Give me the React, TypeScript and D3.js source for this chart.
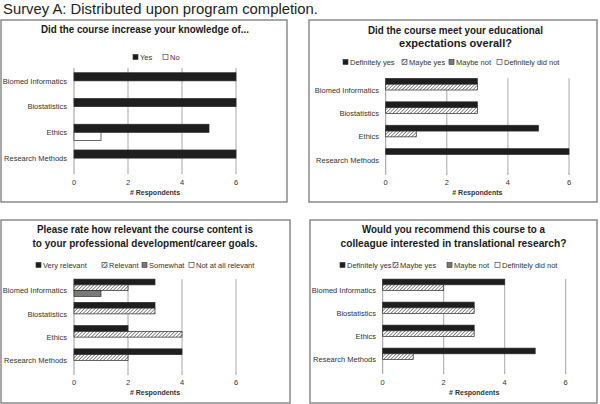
import React from "react";
import * as d3 from "d3";

const categories = ["Biomed Informatics", "Biostatistics", "Ethics", "Research Methods"];
const tickValues = [0, 2, 4, 6];
const axisTitle = "# Respondents";
const mainTitle = "Survey A: Distributed upon program completion.";

const knowledgeTitle = ["Did the course increase your knowledge of..."];
const knowledgeSeries = ["Yes", "No"];
const knowledgeYes = [6, 6, 5, 6];
const knowledgeNo = [0, 0, 1, 0];

const expectTitle = ["Did the course meet your educational", "expectations overall?"];
const expectSeries = ["Definitely yes", "Maybe yes", "Maybe not", "Definitely did not"];
const expectDefYes = [3, 3, 5, 6];
const expectMaybeYes = [3, 3, 1, 0];
const expectMaybeNot = [0, 0, 0, 0];
const expectDefNot = [0, 0, 0, 0];

const relevTitle = ["Please rate how relevant the course content is", "to your professional development/career goals."];
const relevSeries = ["Very relevant", "Relevant", "Somewhat", "Not at all relevant"];
const relevVery = [3, 3, 2, 4];
const relevRelevant = [2, 3, 4, 2];
const relevSomewhat = [1, 0, 0, 0];
const relevNot = [0, 0, 0, 0];

const recTitle = ["Would you recommend this course to a", "colleague interested in translational  research?"];
const recSeries = ["Definitely yes", "Maybe yes", "Maybe not", "Definitely did not"];
const recDefYes = [4, 3, 3, 5];
const recMaybeYes = [2, 3, 3, 1];
const recMaybeNot = [0, 0, 0, 0];
const recDefNot = [0, 0, 0, 0];

const FONT = "'Liberation Sans', Arial, sans-serif";

type Layout = {
  box: [number, number, number, number];
  plot: [number, number, number, number];
  titleX: number;
  titleY: number[];
  titleW: number[];
  legendY: number;
  legendX: number[];
  labelX: number;
  tickY: number;
  axisTitleY: number;
  fills: string[];
  barPad: number;
};

type PanelProps = {
  layout: Layout;
  title: string[];
  series: string[];
  values: number[][];
};

function Panel({ layout, title, series, values }: PanelProps) {
  const [bx, by, bw, bh] = layout.box;
  const [x0, x1, y0, y1] = layout.plot;
  const x = d3.scaleLinear().domain([0, 6]).range([x0, x1]);
  const y = d3.scaleBand<string>().domain(categories).range([y0, y1]).paddingInner(0).paddingOuter(0);
  const inner = d3
    .scaleBand<string>()
    .domain(series)
    .range([0, y.bandwidth()])
    .paddingOuter(layout.barPad)
    .paddingInner(0);
  const axisMid = (x0 + x1) / 2;
  return (
    <g>
      <rect x={bx} y={by} width={bw} height={bh} fill="#fff" stroke="#8a8a8a" strokeWidth={1.5} />
      {title.map((t, i) => (
        <text
          key={i}
          x={layout.titleX}
          y={layout.titleY[i]}
          dy="0.35em"
          textAnchor="middle"
          fontFamily={FONT}
          fontWeight="bold"
          fontSize={11.5}
          fill="#1a1a1a"
          textLength={layout.titleW[i]}
          lengthAdjust="spacingAndGlyphs"
        >
          {t}
        </text>
      ))}
      {series.map((s, i) => (
        <g key={s}>
          <rect
            x={layout.legendX[i]}
            y={layout.legendY - 2.5}
            width={5}
            height={5}
            fill={layout.fills[i]}
            stroke="#333"
            strokeWidth={0.6}
          />
          <text
            x={layout.legendX[i] + 7}
            y={layout.legendY}
            dy="0.35em"
            fontFamily={FONT}
            fontSize={7.5}
            fill="#333"
          >
            {s}
          </text>
        </g>
      ))}
      {tickValues.map((t) => (
        <g key={t}>
          <line x1={x(t)} x2={x(t)} y1={y0} y2={y1} stroke={t === 0 ? "#9a9a9a" : "#a8a8a8"} strokeWidth={1} />
          <line x1={x(t)} x2={x(t)} y1={y1} y2={y1 + 3} stroke="#9a9a9a" strokeWidth={1} />
          <text x={x(t)} y={layout.tickY} dy="0.35em" textAnchor="middle" fontFamily={FONT} fontSize={7.5} fill="#333">
            {t}
          </text>
        </g>
      ))}
      <text
        x={axisMid}
        y={layout.axisTitleY}
        dy="0.35em"
        textAnchor="middle"
        fontFamily={FONT}
        fontWeight="bold"
        fontSize={7}
        fill="#333"
      >
        {axisTitle}
      </text>
      {categories.map((c) => (
        <text
          key={c}
          x={layout.labelX}
          y={(y(c) as number) + y.bandwidth() / 2}
          dy="0.35em"
          textAnchor="end"
          fontFamily={FONT}
          fontSize={7.5}
          fill="#333"
        >
          {c}
        </text>
      ))}
      {categories.map((c, ci) =>
        series.map((s, si) => {
          const v = values[si][ci];
          if (!v) return null;
          return (
            <rect
              key={c + s}
              x={x(0)}
              y={(y(c) as number) + (inner(s) as number)}
              width={x(v) - x(0)}
              height={inner.bandwidth()}
              fill={layout.fills[si]}
              stroke="#2a2a2a"
              strokeWidth={0.7}
            />
          );
        })
      )}
    </g>
  );
}

const FILLS4 = ["#1e1e1e", "url(#hatch)", "#7a7a7a", "#ffffff"];
const FILLS2 = ["#1e1e1e", "#ffffff"];

const layouts: Layout[] = [
  {
    box: [1, 20, 286, 182],
    plot: [74, 236, 68, 171],
    titleX: 145,
    titleY: [29],
    titleW: [208],
    legendY: 57,
    legendX: [133, 163],
    labelX: 67,
    tickY: 182,
    axisTitleY: 193,
    fills: FILLS2,
    barPad: 0.58,
  },
  {
    box: [309, 20, 288, 182],
    plot: [385.7, 569, 78.3, 172],
    titleX: 455.5,
    titleY: [30, 43],
    titleW: [175, 113],
    legendY: 62,
    legendX: [343, 402, 449, 497],
    labelX: 379,
    tickY: 182,
    axisTitleY: 193,
    fills: FILLS4,
    barPad: 0.02,
  },
  {
    box: [1, 220, 289, 183],
    plot: [74, 236, 279, 372],
    titleX: 145,
    titleY: [229, 243],
    titleW: [216, 225],
    legendY: 265,
    legendX: [36, 102, 142, 189],
    labelX: 67,
    tickY: 382,
    axisTitleY: 393,
    fills: FILLS4,
    barPad: 0.02,
  },
  {
    box: [310, 220, 287, 183],
    plot: [382.7, 565.7, 279, 371],
    titleX: 453.5,
    titleY: [229, 243],
    titleW: [183, 226],
    legendY: 265,
    legendX: [340, 393, 447, 495],
    labelX: 376,
    tickY: 382,
    axisTitleY: 393,
    fills: FILLS4,
    barPad: 0.02,
  },
];

export default function App() {
  return (
    <svg width={600} height={404} style={{ position: "absolute", left: 0, top: 0, background: "#fff" }}>
      <defs>
        <pattern id="hatch" patternUnits="userSpaceOnUse" width={2.5} height={2.5} patternTransform="rotate(45)">
          <rect width={2.5} height={2.5} fill="#fff" />
          <line x1={0} y1={0} x2={0} y2={2.5} stroke="#333" strokeWidth={1.1} />
        </pattern>
      </defs>
      <rect width={600} height={404} fill="#fff" />
      <text x={3} y={8.5} dy="0.35em" fontFamily={FONT} fontSize={15} fill="#222" textLength={315} lengthAdjust="spacingAndGlyphs">
        {mainTitle}
      </text>
      <Panel layout={layouts[0]} title={knowledgeTitle} series={knowledgeSeries} values={[knowledgeYes, knowledgeNo]} />
      <Panel
        layout={layouts[1]}
        title={expectTitle}
        series={expectSeries}
        values={[expectDefYes, expectMaybeYes, expectMaybeNot, expectDefNot]}
      />
      <Panel
        layout={layouts[2]}
        title={relevTitle}
        series={relevSeries}
        values={[relevVery, relevRelevant, relevSomewhat, relevNot]}
      />
      <Panel
        layout={layouts[3]}
        title={recTitle}
        series={recSeries}
        values={[recDefYes, recMaybeYes, recMaybeNot, recDefNot]}
      />
    </svg>
  );
}
